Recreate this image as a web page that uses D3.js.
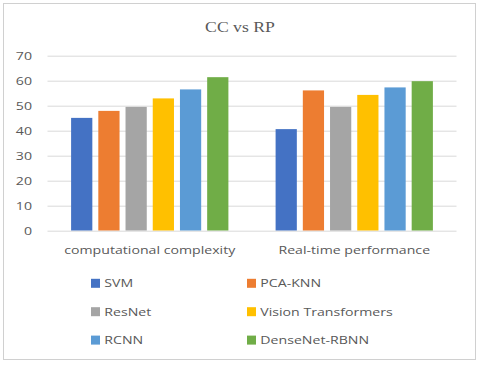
<!DOCTYPE html>
<html>
<head>
<meta charset="utf-8">
<script src="https://cdn.jsdelivr.net/npm/d3@7"></script>
<style>
  body { margin: 0; background: #fff; }
</style>
</head>
<body>
<div id="chart"></div>
<script>
// chart data
const categories = ["computational complexity", "Real-time performance"];
const models = ["SVM", "PCA-KNN", "ResNet", "Vision Transformers", "RCNN", "DenseNet-RBNN"];
const ccValues = [45.1, 47.9, 49.5, 52.9, 56.5, 61.4];
const rpValues = [40.6, 56.1, 49.5, 54.3, 57.3, 59.8];
const yTicks = [0, 10, 20, 30, 40, 50, 60, 70];
const colors = ["#4472C4", "#ED7D31", "#A5A5A5", "#FFC000", "#5B9BD5", "#70AD47"];

const W = 480, H = 365;
const margin = {top: 55.7, left: 47.5, right: 23.5, bottom: 134.5};
const width = W - margin.left - margin.right;
const height = H - margin.top - margin.bottom;

// the original picture is a bit stretched sideways, so text gets a scaleX
const SX = 1.22;
const sansFont = "'Open Sans', sans-serif";

const root = d3.select("#chart").append("svg")
    .attr("width", W)
    .attr("height", H);

// helper for stretched text
function stretchText(parent, x, yPos, str, anchor, size, family, sx) {
    return parent.append("g")
        .attr("transform", `translate(${x}, ${yPos}) scale(${sx}, 1)`)
        .append("text")
        .attr("dy", "0.35em")
        .attr("text-anchor", anchor)
        .style("font-family", family)
        .style("font-size", size + "px")
        .attr("fill", "#595959")
        .text(str);
}

// outer frame
root.append("rect")
    .attr("x", 3.5).attr("y", 3.5)
    .attr("width", 472).attr("height", 356)
    .attr("fill", "#fff")
    .attr("stroke", "#d0d0d0");

// title
stretchText(root, W / 2, 27, "CC vs RP", "middle", 15,
    "'Liberation Serif', 'Times New Roman', serif", 1.18);

const svg = root.append("g")
    .attr("transform", `translate(${margin.left}, ${margin.top})`);

const x0 = d3.scaleBand().domain(categories).range([0, width]);
const groupW = 157.3;
const x1 = d3.scaleBand().domain(models)
    .range([0, groupW]).paddingInner(0.22).paddingOuter(0);
const y = d3.scaleLinear().domain([0, 70]).range([height, 0]);

// gridlines
svg.append("g")
    .selectAll("line")
    .data(yTicks)
    .join("line")
    .attr("x1", 0).attr("x2", width)
    .attr("y1", d => Math.round(y(d)) + 0.5)
    .attr("y2", d => Math.round(y(d)) + 0.5)
    .attr("stroke", "#d9d9d9");

// y tick labels
yTicks.forEach(t => {
    stretchText(svg, -15.5, y(t), t, "end", 11.6, sansFont, SX);
});

const tableRows = categories.map((c, i) => ({
    cat: c,
    values: (i === 0 ? ccValues : rpValues)
}));

const groups = svg.selectAll(".grp")
    .data(tableRows)
    .join("g")
    .attr("class", "grp")
    .attr("transform", d => `translate(${x0(d.cat) + (x0.bandwidth() - groupW) / 2}, 0)`);

groups.selectAll("rect")
    .data(d => d.values.map((v, i) => ({model: models[i], value: v, color: colors[i]})))
    .join("rect")
    .attr("x", d => x1(d.model))
    .attr("width", x1.bandwidth())
    .attr("y", d => y(d.value))
    .attr("height", d => y(0) - y(d.value))
    .attr("fill", d => d.color);

// category labels
categories.forEach(c => {
    stretchText(svg, x0(c) + x0.bandwidth() / 2, height + 19.5, c, "middle", 11.6, sansFont, SX);
});

// legend, two columns
models.forEach((m, i) => {
    const lx = i % 2 === 0 ? 91 : 247;
    const ly = 283.3 + Math.floor(i / 2) * 28.4;
    root.append("rect")
        .attr("x", lx).attr("y", ly - 4.5)
        .attr("width", 9).attr("height", 9)
        .attr("fill", colors[i]);
    stretchText(root, lx + 13.3, ly, m, "start", 11.6, sansFont, SX);
});
</script>
</body>
</html>
